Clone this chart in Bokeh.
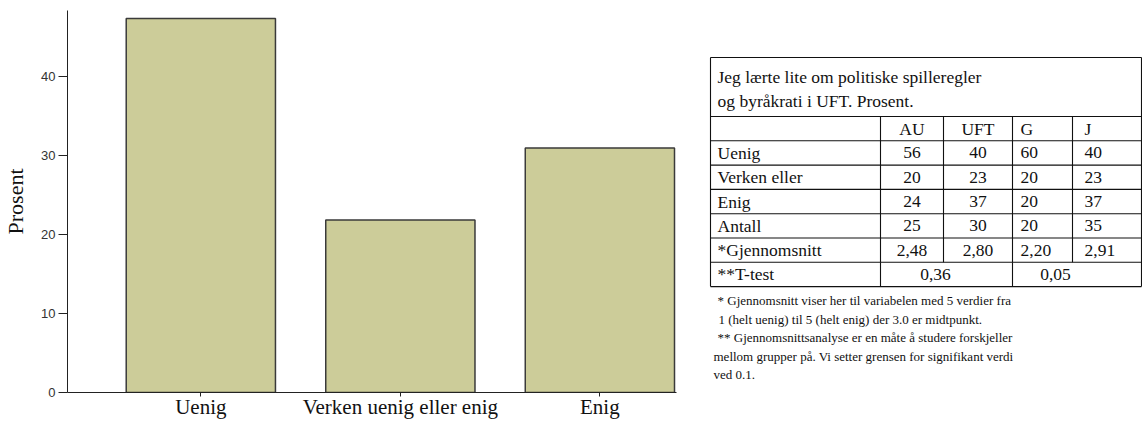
from bokeh.plotting import figure
from bokeh.models import Range1d, FixedTicker
from bokeh.layouts import row
from bokeh.embed import file_html
from bokeh.resources import INLINE
from bokeh.core.properties import value

# ---------------- data ----------------
categories = ["Uenig", "Verken uenig eller enig", "Enig"]
percent = [47.3, 21.8, 30.9]
y_ticks = [0, 10, 20, 30, 40]
y_title = "Prosent"

table_title = ["Jeg lærte lite om politiske spilleregler",
               "og byråkrati i UFT. Prosent."]
groups = ["AU", "UFT", "G", "J"]
row_labels = ["Uenig", "Verken eller", "Enig", "Antall", "*Gjennomsnitt"]
au_vals = ["56", "20", "24", "25", "2,48"]
uft_vals = ["40", "23", "37", "30", "2,80"]
g_vals = ["60", "20", "20", "20", "2,20"]
j_vals = ["40", "23", "37", "35", "2,91"]
ttest_label = "**T-test"
ttest_vals = ["0,36", "0,05"]
footnotes = [
    "* Gjennomsnitt viser her til variabelen med 5 verdier fra",
    " 1 (helt uenig) til 5 (helt enig) der 3.0 er midtpunkt.",
    "** Gjennomsnittsanalyse er en måte å studere forskjeller",
    "mellom grupper på. Vi setter grensen for signifikant verdi",
    "ved 0.1.",
]

SERIF = value("Liberation Serif")
INK = "#111111"

# ---------------- bar chart ----------------
xs = list(range(1, len(categories) + 1))
p1 = figure(width=690, height=421, output_backend="svg", toolbar_location=None,
            x_range=Range1d(0.3317, 3.384), y_range=Range1d(0, 48.3),
            min_border_left=64, min_border_top=10, min_border_bottom=29,
            min_border_right=14)
p1.outline_line_color = None
p1.xgrid.visible = False
p1.ygrid.visible = False
p1.background_fill_color = "white"
p1.border_fill_color = "white"

p1.vbar(x=xs, top=percent, width=0.748, bottom=0,
        fill_color="#cccc99", line_color="#3a3a3a", line_width=1.5)

xa = p1.xaxis[0]
xa.ticker = FixedTicker(ticks=xs)
xa.major_label_overrides = {x: c for x, c in zip(xs, categories)}
xa.major_tick_out = 4
xa.major_tick_in = 0
xa.minor_tick_line_color = None
xa.major_label_standoff = -2
xa.major_label_text_font = "Liberation Serif"
xa.major_label_text_font_size = "21px"
xa.major_label_text_color = INK
xa.axis_line_color = "#222222"
xa.major_tick_line_color = "#222222"

ya = p1.yaxis[0]
ya.ticker = FixedTicker(ticks=y_ticks)
ya.major_tick_out = 9
ya.major_tick_in = 0
ya.minor_tick_line_color = None
ya.major_label_standoff = 3
ya.major_label_text_font = "Liberation Sans"
ya.major_label_text_font_size = "13px"
ya.major_label_text_color = "#333333"
ya.axis_line_color = "#222222"
ya.major_tick_line_color = "#222222"
ya.axis_label = y_title
ya.axis_label_text_font = "Liberation Serif"
ya.axis_label_text_font_size = "22px"
ya.axis_label_text_font_style = "normal"
ya.axis_label_text_color = INK
ya.axis_label_standoff = 10

# ---------------- table (drawn in page pixel coordinates) ----------------
p2 = figure(width=452, height=421, output_backend="svg", toolbar_location=None,
            x_range=Range1d(690, 1142), y_range=Range1d(392, 10),
            x_axis_location=None, y_axis_location=None,
            min_border_left=0, min_border_right=0,
            min_border_top=10, min_border_bottom=29)
p2.outline_line_color = None
p2.xgrid.visible = False
p2.ygrid.visible = False
p2.background_fill_color = "white"
p2.border_fill_color = "white"

left, right = 710, 1141
col_div = [880, 943, 1012, 1072]
top = 57
title_sep = 116
row_h = 24.3
n_rows = 1 + len(row_labels) + 1
row_lines = [title_sep + row_h * k for k in range(n_rows + 1)]
bottom = row_lines[-1]

x0, y0, x1, y1 = [], [], [], []
for yy in [top] + row_lines:
    x0.append(left); x1.append(right); y0.append(yy); y1.append(yy)
for xx in [left, right]:
    x0.append(xx); x1.append(xx); y0.append(top); y1.append(bottom)
for xx in col_div:
    x0.append(xx); x1.append(xx); y0.append(title_sep); y1.append(row_lines[-2])
for xx in [col_div[0], col_div[2]]:
    x0.append(xx); x1.append(xx); y0.append(row_lines[-2]); y1.append(bottom)
p2.segment(x0=x0, y0=y0, x1=x1, y1=y1, line_color=INK, line_width=1.1)

FS = "17.5px"
p2.text(x=[717, 717], y=[76, 100], text=table_title, text_font=SERIF,
        text_font_size=FS, text_baseline="middle", text_align="left",
        text_color=INK)

centers = [(row_lines[k] + row_lines[k + 1]) / 2 for k in range(n_rows)]
p2.text(x=[717] * (len(row_labels) + 1), y=centers[1:],
        text=row_labels + [ttest_label], text_font=SERIF, text_font_size=FS,
        text_baseline="middle", text_align="left", text_color=INK)

col_x = [911.5, 977.5, 1020, 1084]
col_align = ["center", "center", "left", "left"]
col_vals = [au_vals, uft_vals, g_vals, j_vals]
for gname, cx, al, vals in zip(groups, col_x, col_align, col_vals):
    p2.text(x=[cx] * (len(vals) + 1), y=centers[:len(vals) + 1],
            text=[gname] + vals, text_font=SERIF, text_font_size=FS,
            text_baseline="middle", text_align=al, text_color=INK)

p2.text(x=[935, 1055], y=[centers[-1]] * 2, text=ttest_vals, text_font=SERIF,
        text_font_size=FS, text_baseline="middle", text_align="center",
        text_color=INK)

fn_x = [717, 718, 717, 713, 713]
fn_y = [bottom + 14 + 18.5 * k for k in range(len(footnotes))]
p2.text(x=fn_x, y=fn_y, text=footnotes, text_font=SERIF, text_font_size="13px",
        text_baseline="middle", text_align="left", text_color=INK)

layout = row(p1, p2)
open("out.html", "w").write(file_html(layout, INLINE))
